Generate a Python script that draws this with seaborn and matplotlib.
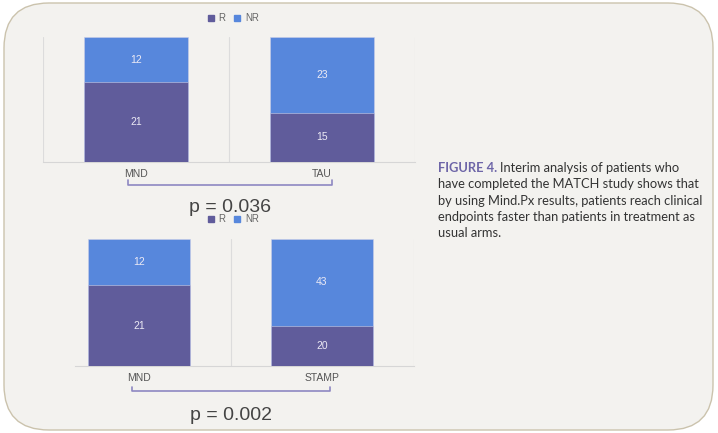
import pandas as pd
import seaborn as sns
import matplotlib.pyplot as plt
from matplotlib.patches import FancyBboxPatch
from matplotlib.lines import Line2D

# data
top_groups = ['MND', 'TAU']
top_r = [21, 15]
top_nr = [12, 23]
top_p = 'p = 0.036'

bottom_groups = ['MND', 'STAMP']
bottom_r = [21, 20]
bottom_nr = [12, 43]
bottom_p = 'p = 0.002'

caption_head = 'FIGURE 4.'
caption_lines = ['Interim analysis of patients who',
                 'have completed the MATCH study shows that',
                 'by using Mind.Px results, patients reach clinical',
                 'endpoints faster than patients in treatment as',
                 'usual arms.']

R_COL = '#605c9b'
NR_COL = '#5787dc'
BG = '#f3f2ef'
W, H = 718, 433

sns.set_theme(style='white')
plt.rcParams['font.family'] = ['Liberation Sans', 'DejaVu Sans']

fig = plt.figure(figsize=(W / 100, H / 100), dpi=100)
fig.patch.set_facecolor('white')

# rounded panel behind everything
panel = FancyBboxPatch((0.04, 0.03), 7.09, 4.27,
                       boxstyle='round,pad=0,rounding_size=0.45',
                       transform=fig.dpi_scale_trans, facecolor=BG,
                       edgecolor='#cbc3ad', linewidth=1.0, zorder=-10)
fig.patches.append(panel)


def px(x0, y0, x1, y1):
    # pixel box -> figure fraction rect
    return [x0 / W, 1 - y1 / H, (x1 - x0) / W, (y1 - y0) / H]


def stacked(ax, groups, r, nr, base_from=None):
    df = pd.DataFrame({'group': groups, 'R': r, 'NR': nr})
    df['total'] = 1.0
    df['r_share'] = df['R'] / (df['R'] + df['NR'])
    ax.set_facecolor(BG)
    sns.barplot(data=df, x='group', y='total', color=NR_COL, saturation=1,
                width=0.56, ax=ax, edgecolor='#c9cde8', linewidth=0.4, zorder=3)
    sns.barplot(data=df, x='group', y='r_share', color=R_COL, saturation=1,
                width=0.56, ax=ax, edgecolor='#c9cde8', linewidth=0.4, zorder=3)
    for i, row in df.iterrows():
        ax.text(i, row['r_share'] / 2, str(row['R']), ha='center', va='center',
                color='#eceaf5', fontsize=7.5, zorder=5)
        ax.text(i, (1 + row['r_share']) / 2, str(row['NR']), ha='center', va='center',
                color='#eceaf5', fontsize=7.5, zorder=5)
    ax.set_xlim(-0.5, 1.5)
    ax.set_ylim(0, 1)
    ax.set_yticks([])
    ax.set_xlabel('')
    ax.set_ylabel('')
    for s in ['top', 'right', 'left']:
        ax.spines[s].set_visible(False)
    ax.spines['bottom'].set_color('#d6d6d6')
    ax.spines['bottom'].set_linewidth(0.8)
    if base_from is not None:
        ax.spines['bottom'].set_bounds(base_from, 1.5)
    grid_x = [0.5, 1.5] if base_from is not None else [-0.5, 0.5, 1.5]
    for gx in grid_x:
        ax.axvline(gx, color='#dcdcdc', lw=0.8, zorder=1)
    ax.tick_params(axis='x', length=0, pad=5)
    ax.set_xticks(range(len(groups)))
    ax.set_xticklabels(groups, fontsize=7.5, color='#555555')
    handles = [Line2D([], [], marker='s', ls='', color=R_COL, markersize=4),
               Line2D([], [], marker='s', ls='', color=NR_COL, markersize=4)]
    return handles


ax1 = fig.add_axes(px(43, 37, 415, 162))
h = stacked(ax1, top_groups, top_r, top_nr)
fig.legend(h, ['R', 'NR'], loc='center', bbox_to_anchor=(230 / W, 1 - 18 / H),
           ncol=2, frameon=False, fontsize=7, handletextpad=-0.2,
           columnspacing=0.2, labelcolor='#666666')

ax2 = fig.add_axes(px(47.5, 239, 413.5, 366))
h = stacked(ax2, bottom_groups, bottom_r, bottom_nr, base_from=-0.35)
fig.legend(h, ['R', 'NR'], loc='center', bbox_to_anchor=(230 / W, 1 - 219 / H),
           ncol=2, frameon=False, fontsize=7, handletextpad=-0.2,
           columnspacing=0.2, labelcolor='#666666')

# brackets and p values
for (x0, x1, y0, y1, ptxt, py) in [(128, 332, 180, 185, top_p, 207),
                                   (132, 330, 387, 391, bottom_p, 415)]:
    xs = [x0 / W, x0 / W, x1 / W, x1 / W]
    ys = [1 - y0 / H, 1 - y1 / H, 1 - y1 / H, 1 - y0 / H]
    fig.add_artist(Line2D(xs, ys, color='#8e88c2', lw=1.2))
    fig.text((x0 + x1) / 2 / W, 1 - py / H, ptxt, ha='center', va='center',
             fontsize=14, color='#444444', zorder=6)

# caption
cap_x = 438 / W
line_y = [168, 184, 201, 217, 233]
cap_size = 9.25
fig.canvas.draw()
r = fig.canvas.get_renderer()
head = fig.text(cap_x, 1 - line_y[0] / H, caption_head, family=['Lato', 'DejaVu Sans'],
                fontsize=cap_size, fontweight='bold', color='#6e66a8', va='center')
bb = head.get_window_extent(renderer=r)
fig.text((bb.x1 + 3) / W, 1 - line_y[0] / H, caption_lines[0],
         family=['Lato', 'DejaVu Sans'], fontsize=cap_size, color='#333333', va='center')
for ly, txt in zip(line_y[1:], caption_lines[1:]):
    fig.text(cap_x, 1 - ly / H, txt, family=['Lato', 'DejaVu Sans'],
             fontsize=cap_size, color='#333333', va='center')

fig.savefig('out.png', dpi=100, facecolor=fig.get_facecolor())
